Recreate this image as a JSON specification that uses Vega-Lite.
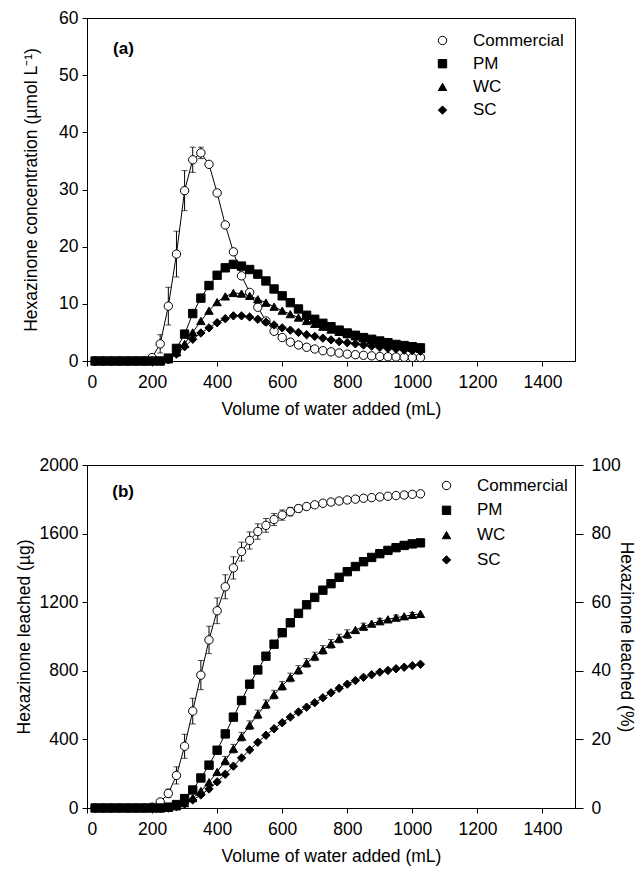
{
"$schema": "https://vega.github.io/schema/vega-lite/v6.json",
"padding": {"left": 14, "top": 8, "right": 2, "bottom": 4},
"config": {
  "font": "Liberation Sans",
  "view": {"stroke": "black", "strokeWidth": 1},
  "axis": {"grid": false, "domainColor": "black", "tickColor": "black", "labelColor": "black", "titleColor": "black", "labelFont": "Liberation Sans", "titleFont": "Liberation Sans", "labelFontSize": 17.5, "titleFontSize": 17.5, "titleFontWeight": "normal", "tickSize": 5, "labelPadding": 4, "format": "d"},
  "axisX": {"labelPadding": 7, "titlePadding": 10},
  "legend": {"labelFont": "Liberation Sans", "labelFontSize": 17, "labelColor": "black", "symbolStrokeColor": "black", "symbolStrokeWidth": 1, "symbolSize": 70, "padding": 0}
},
"spacing": 36,
"resolve": {"scale": {"shape": "independent", "fill": "independent", "stroke": "independent"}},
"datasets": {
"a": [
{"v":25,"s":"Commercial","c":0},{"v":50,"s":"Commercial","c":0},{"v":75,"s":"Commercial","c":0},{"v":100,"s":"Commercial","c":0},{"v":125,"s":"Commercial","c":0},{"v":150,"s":"Commercial","c":0},{"v":175,"s":"Commercial","c":0},{"v":200,"s":"Commercial","c":0.6},{"v":225,"s":"Commercial","c":3.0},{"v":250,"s":"Commercial","c":9.6},{"v":275,"s":"Commercial","c":18.7},{"v":300,"s":"Commercial","c":29.8},{"v":325,"s":"Commercial","c":35.2},{"v":350,"s":"Commercial","c":36.4},{"v":375,"s":"Commercial","c":34.4},{"v":400,"s":"Commercial","c":29.4},{"v":425,"s":"Commercial","c":23.8},{"v":450,"s":"Commercial","c":19.1},{"v":475,"s":"Commercial","c":14.9},{"v":500,"s":"Commercial","c":12.0},{"v":525,"s":"Commercial","c":9.4},{"v":550,"s":"Commercial","c":7.0},{"v":575,"s":"Commercial","c":5.2},{"v":600,"s":"Commercial","c":4.1},{"v":625,"s":"Commercial","c":3.3},{"v":650,"s":"Commercial","c":2.8},{"v":675,"s":"Commercial","c":2.4},{"v":700,"s":"Commercial","c":2.1},{"v":725,"s":"Commercial","c":1.8},{"v":750,"s":"Commercial","c":1.6},{"v":775,"s":"Commercial","c":1.4},{"v":800,"s":"Commercial","c":1.2},{"v":825,"s":"Commercial","c":1.1},{"v":850,"s":"Commercial","c":1.0},{"v":875,"s":"Commercial","c":0.9},{"v":900,"s":"Commercial","c":0.8},{"v":925,"s":"Commercial","c":0.75},{"v":950,"s":"Commercial","c":0.7},{"v":975,"s":"Commercial","c":0.65},{"v":1000,"s":"Commercial","c":0.6},{"v":1025,"s":"Commercial","c":0.6},
{"v":25,"s":"PM","c":0},{"v":50,"s":"PM","c":0},{"v":75,"s":"PM","c":0},{"v":100,"s":"PM","c":0},{"v":125,"s":"PM","c":0},{"v":150,"s":"PM","c":0},{"v":175,"s":"PM","c":0},{"v":200,"s":"PM","c":0},{"v":225,"s":"PM","c":0},{"v":250,"s":"PM","c":0.5},{"v":275,"s":"PM","c":2.2},{"v":300,"s":"PM","c":4.7},{"v":325,"s":"PM","c":8.3},{"v":350,"s":"PM","c":11.0},{"v":375,"s":"PM","c":13.2},{"v":400,"s":"PM","c":15.0},{"v":425,"s":"PM","c":16.3},{"v":450,"s":"PM","c":16.9},{"v":475,"s":"PM","c":16.6},{"v":500,"s":"PM","c":16.0},{"v":525,"s":"PM","c":15.2},{"v":550,"s":"PM","c":14.0},{"v":575,"s":"PM","c":12.6},{"v":600,"s":"PM","c":11.4},{"v":625,"s":"PM","c":10.2},{"v":650,"s":"PM","c":9.1},{"v":675,"s":"PM","c":8.0},{"v":700,"s":"PM","c":7.3},{"v":725,"s":"PM","c":6.6},{"v":750,"s":"PM","c":6.0},{"v":775,"s":"PM","c":5.4},{"v":800,"s":"PM","c":4.9},{"v":825,"s":"PM","c":4.5},{"v":850,"s":"PM","c":4.1},{"v":875,"s":"PM","c":3.8},{"v":900,"s":"PM","c":3.5},{"v":925,"s":"PM","c":3.2},{"v":950,"s":"PM","c":2.9},{"v":975,"s":"PM","c":2.7},{"v":1000,"s":"PM","c":2.5},{"v":1025,"s":"PM","c":2.3},
{"v":25,"s":"WC","c":0},{"v":50,"s":"WC","c":0},{"v":75,"s":"WC","c":0},{"v":100,"s":"WC","c":0},{"v":125,"s":"WC","c":0},{"v":150,"s":"WC","c":0},{"v":175,"s":"WC","c":0},{"v":200,"s":"WC","c":0},{"v":225,"s":"WC","c":0},{"v":250,"s":"WC","c":0.3},{"v":275,"s":"WC","c":1.5},{"v":300,"s":"WC","c":3.0},{"v":325,"s":"WC","c":5.0},{"v":350,"s":"WC","c":7.0},{"v":375,"s":"WC","c":8.8},{"v":400,"s":"WC","c":10.3},{"v":425,"s":"WC","c":11.3},{"v":450,"s":"WC","c":11.9},{"v":475,"s":"WC","c":11.8},{"v":500,"s":"WC","c":11.4},{"v":525,"s":"WC","c":10.8},{"v":550,"s":"WC","c":10.2},{"v":575,"s":"WC","c":9.5},{"v":600,"s":"WC","c":8.8},{"v":625,"s":"WC","c":8.2},{"v":650,"s":"WC","c":7.6},{"v":675,"s":"WC","c":7.0},{"v":700,"s":"WC","c":6.5},{"v":725,"s":"WC","c":6.0},{"v":750,"s":"WC","c":5.5},{"v":775,"s":"WC","c":5.1},{"v":800,"s":"WC","c":4.7},{"v":825,"s":"WC","c":4.3},{"v":850,"s":"WC","c":4.0},{"v":875,"s":"WC","c":3.6},{"v":900,"s":"WC","c":3.3},{"v":925,"s":"WC","c":3.0},{"v":950,"s":"WC","c":2.8},{"v":975,"s":"WC","c":2.5},{"v":1000,"s":"WC","c":2.3},{"v":1025,"s":"WC","c":2.1},
{"v":25,"s":"SC","c":0},{"v":50,"s":"SC","c":0},{"v":75,"s":"SC","c":0},{"v":100,"s":"SC","c":0},{"v":125,"s":"SC","c":0},{"v":150,"s":"SC","c":0},{"v":175,"s":"SC","c":0},{"v":200,"s":"SC","c":0},{"v":225,"s":"SC","c":0},{"v":250,"s":"SC","c":0.2},{"v":275,"s":"SC","c":1.2},{"v":300,"s":"SC","c":2.5},{"v":325,"s":"SC","c":3.8},{"v":350,"s":"SC","c":4.9},{"v":375,"s":"SC","c":5.8},{"v":400,"s":"SC","c":6.7},{"v":425,"s":"SC","c":7.4},{"v":450,"s":"SC","c":7.9},{"v":475,"s":"SC","c":7.9},{"v":500,"s":"SC","c":7.7},{"v":525,"s":"SC","c":7.3},{"v":550,"s":"SC","c":6.8},{"v":575,"s":"SC","c":6.3},{"v":600,"s":"SC","c":5.8},{"v":625,"s":"SC","c":5.4},{"v":650,"s":"SC","c":5.0},{"v":675,"s":"SC","c":4.6},{"v":700,"s":"SC","c":4.3},{"v":725,"s":"SC","c":4.0},{"v":750,"s":"SC","c":3.7},{"v":775,"s":"SC","c":3.4},{"v":800,"s":"SC","c":3.2},{"v":825,"s":"SC","c":3.0},{"v":850,"s":"SC","c":2.8},{"v":875,"s":"SC","c":2.6},{"v":900,"s":"SC","c":2.4},{"v":925,"s":"SC","c":2.2},{"v":950,"s":"SC","c":2.1},{"v":975,"s":"SC","c":1.9},{"v":1000,"s":"SC","c":1.8},{"v":1025,"s":"SC","c":1.7}
],
"b": [
{"v":25,"s":"Commercial","m":0},{"v":50,"s":"Commercial","m":0},{"v":75,"s":"Commercial","m":0},{"v":100,"s":"Commercial","m":0},{"v":125,"s":"Commercial","m":0},{"v":150,"s":"Commercial","m":0},{"v":175,"s":"Commercial","m":0},{"v":200,"s":"Commercial","m":5},{"v":225,"s":"Commercial","m":35},{"v":250,"s":"Commercial","m":85},{"v":275,"s":"Commercial","m":190},{"v":300,"s":"Commercial","m":360},{"v":325,"s":"Commercial","m":565},{"v":350,"s":"Commercial","m":775},{"v":375,"s":"Commercial","m":980},{"v":400,"s":"Commercial","m":1150},{"v":425,"s":"Commercial","m":1290},{"v":450,"s":"Commercial","m":1400},{"v":475,"s":"Commercial","m":1495},{"v":500,"s":"Commercial","m":1560},{"v":525,"s":"Commercial","m":1612},{"v":550,"s":"Commercial","m":1648},{"v":575,"s":"Commercial","m":1682},{"v":600,"s":"Commercial","m":1708},{"v":625,"s":"Commercial","m":1728},{"v":650,"s":"Commercial","m":1746},{"v":675,"s":"Commercial","m":1758},{"v":700,"s":"Commercial","m":1768},{"v":725,"s":"Commercial","m":1777},{"v":750,"s":"Commercial","m":1784},{"v":775,"s":"Commercial","m":1790},{"v":800,"s":"Commercial","m":1796},{"v":825,"s":"Commercial","m":1801},{"v":850,"s":"Commercial","m":1806},{"v":875,"s":"Commercial","m":1810},{"v":900,"s":"Commercial","m":1814},{"v":925,"s":"Commercial","m":1818},{"v":950,"s":"Commercial","m":1822},{"v":975,"s":"Commercial","m":1825},{"v":1000,"s":"Commercial","m":1829},{"v":1025,"s":"Commercial","m":1832},
{"v":25,"s":"PM","m":0},{"v":50,"s":"PM","m":0},{"v":75,"s":"PM","m":0},{"v":100,"s":"PM","m":0},{"v":125,"s":"PM","m":0},{"v":150,"s":"PM","m":0},{"v":175,"s":"PM","m":0},{"v":200,"s":"PM","m":0},{"v":225,"s":"PM","m":0},{"v":250,"s":"PM","m":5},{"v":275,"s":"PM","m":20},{"v":300,"s":"PM","m":55},{"v":325,"s":"PM","m":105},{"v":350,"s":"PM","m":175},{"v":375,"s":"PM","m":250},{"v":400,"s":"PM","m":337},{"v":425,"s":"PM","m":432},{"v":450,"s":"PM","m":530},{"v":475,"s":"PM","m":627},{"v":500,"s":"PM","m":722},{"v":525,"s":"PM","m":805},{"v":550,"s":"PM","m":885},{"v":575,"s":"PM","m":955},{"v":600,"s":"PM","m":1022},{"v":625,"s":"PM","m":1080},{"v":650,"s":"PM","m":1135},{"v":675,"s":"PM","m":1185},{"v":700,"s":"PM","m":1228},{"v":725,"s":"PM","m":1270},{"v":750,"s":"PM","m":1308},{"v":775,"s":"PM","m":1345},{"v":800,"s":"PM","m":1378},{"v":825,"s":"PM","m":1408},{"v":850,"s":"PM","m":1436},{"v":875,"s":"PM","m":1461},{"v":900,"s":"PM","m":1483},{"v":925,"s":"PM","m":1502},{"v":950,"s":"PM","m":1518},{"v":975,"s":"PM","m":1531},{"v":1000,"s":"PM","m":1540},{"v":1025,"s":"PM","m":1546},
{"v":25,"s":"WC","m":0},{"v":50,"s":"WC","m":0},{"v":75,"s":"WC","m":0},{"v":100,"s":"WC","m":0},{"v":125,"s":"WC","m":0},{"v":150,"s":"WC","m":0},{"v":175,"s":"WC","m":0},{"v":200,"s":"WC","m":0},{"v":225,"s":"WC","m":0},{"v":250,"s":"WC","m":2},{"v":275,"s":"WC","m":10},{"v":300,"s":"WC","m":28},{"v":325,"s":"WC","m":58},{"v":350,"s":"WC","m":99},{"v":375,"s":"WC","m":150},{"v":400,"s":"WC","m":210},{"v":425,"s":"WC","m":276},{"v":450,"s":"WC","m":346},{"v":475,"s":"WC","m":416},{"v":500,"s":"WC","m":483},{"v":525,"s":"WC","m":546},{"v":550,"s":"WC","m":605},{"v":575,"s":"WC","m":661},{"v":600,"s":"WC","m":712},{"v":625,"s":"WC","m":761},{"v":650,"s":"WC","m":805},{"v":675,"s":"WC","m":846},{"v":700,"s":"WC","m":884},{"v":725,"s":"WC","m":922},{"v":750,"s":"WC","m":957},{"v":775,"s":"WC","m":988},{"v":800,"s":"WC","m":1014},{"v":825,"s":"WC","m":1038},{"v":850,"s":"WC","m":1058},{"v":875,"s":"WC","m":1075},{"v":900,"s":"WC","m":1089},{"v":925,"s":"WC","m":1100},{"v":950,"s":"WC","m":1110},{"v":975,"s":"WC","m":1118},{"v":1000,"s":"WC","m":1126},{"v":1025,"s":"WC","m":1132},
{"v":25,"s":"SC","m":0},{"v":50,"s":"SC","m":0},{"v":75,"s":"SC","m":0},{"v":100,"s":"SC","m":0},{"v":125,"s":"SC","m":0},{"v":150,"s":"SC","m":0},{"v":175,"s":"SC","m":0},{"v":200,"s":"SC","m":0},{"v":225,"s":"SC","m":0},{"v":250,"s":"SC","m":1},{"v":275,"s":"SC","m":8},{"v":300,"s":"SC","m":24},{"v":325,"s":"SC","m":47},{"v":350,"s":"SC","m":76},{"v":375,"s":"SC","m":111},{"v":400,"s":"SC","m":152},{"v":425,"s":"SC","m":197},{"v":450,"s":"SC","m":244},{"v":475,"s":"SC","m":292},{"v":500,"s":"SC","m":339},{"v":525,"s":"SC","m":383},{"v":550,"s":"SC","m":424},{"v":575,"s":"SC","m":462},{"v":600,"s":"SC","m":497},{"v":625,"s":"SC","m":530},{"v":650,"s":"SC","m":560},{"v":675,"s":"SC","m":588},{"v":700,"s":"SC","m":614},{"v":725,"s":"SC","m":643},{"v":750,"s":"SC","m":672},{"v":775,"s":"SC","m":698},{"v":800,"s":"SC","m":722},{"v":825,"s":"SC","m":743},{"v":850,"s":"SC","m":762},{"v":875,"s":"SC","m":777},{"v":900,"s":"SC","m":792},{"v":925,"s":"SC","m":802},{"v":950,"s":"SC","m":812},{"v":975,"s":"SC","m":821},{"v":1000,"s":"SC","m":830},{"v":1025,"s":"SC","m":838}
],
"ea": [
{"v":225,"lo":1.4,"hi":4.6},{"v":250,"lo":6.3,"hi":12.9},{"v":275,"lo":14.7,"hi":22.7},{"v":300,"lo":26.3,"hi":33.3},{"v":325,"lo":33.0,"hi":37.4},{"v":350,"lo":35.4,"hi":37.4}
],
"eb": [
{"v":250,"lo":60,"hi":110},{"v":275,"lo":140,"hi":240},{"v":300,"lo":290,"hi":430},{"v":325,"lo":490,"hi":640},{"v":350,"lo":690,"hi":860},{"v":375,"lo":900,"hi":1060},{"v":400,"lo":1075,"hi":1225},{"v":425,"lo":1220,"hi":1360},{"v":450,"lo":1335,"hi":1465},{"v":475,"lo":1440,"hi":1550},{"v":500,"lo":1510,"hi":1610},{"v":525,"lo":1567,"hi":1657},{"v":550,"lo":1608,"hi":1688},{"v":575,"lo":1647,"hi":1717},{"v":600,"lo":1678,"hi":1738},{"v":625,"lo":1703,"hi":1753},{"v":650,"lo":1726,"hi":1766},
{"v":425,"lo":251,"hi":301},{"v":450,"lo":321,"hi":371},{"v":475,"lo":391,"hi":441},{"v":500,"lo":458,"hi":508},{"v":525,"lo":521,"hi":571},{"v":550,"lo":580,"hi":630},{"v":575,"lo":636,"hi":686},{"v":600,"lo":687,"hi":737},{"v":625,"lo":736,"hi":786},{"v":650,"lo":780,"hi":830},{"v":675,"lo":821,"hi":871},{"v":700,"lo":859,"hi":909},{"v":725,"lo":897,"hi":947},{"v":750,"lo":932,"hi":982},{"v":775,"lo":963,"hi":1013},{"v":800,"lo":989,"hi":1039},{"v":850,"lo":1038,"hi":1078},{"v":900,"lo":1072,"hi":1106},{"v":950,"lo":1095,"hi":1125},{"v":1000,"lo":1112,"hi":1140}
]
},
"vconcat": [
{
  "width": 488, "height": 343,
  "layer": [
    {"data": {"name": "a"}, "mark": {"type": "line", "color": "black", "strokeWidth": 1},
     "encoding": {
       "x": {"field": "v", "type": "quantitative", "scale": {"domain": [0, 1500], "nice": false}, "axis": {"values": [0,200,400,600,800,1000,1200,1400]}, "title": "Volume of water added (mL)"},
       "y": {"field": "c", "type": "quantitative", "scale": {"domain": [0, 60], "nice": false}, "axis": {"values": [0,10,20,30,40,50,60], "titlePadding": 18}, "title": "Hexazinone concentration (µmol L⁻¹)"},
       "detail": {"field": "s"}}},
    {"data": {"name": "ea"}, "mark": {"type": "errorbar", "ticks": true, "size": 6, "color": "black", "thickness": 1},
     "encoding": {
       "x": {"field": "v", "type": "quantitative", "title": "Volume of water added (mL)"},
       "y": {"field": "lo", "type": "quantitative", "title": "Hexazinone concentration (µmol L⁻¹)"},
       "y2": {"field": "hi"}}},
    {"data": {"name": "a"}, "mark": {"type": "point", "filled": true, "strokeWidth": 1, "size": 70, "opacity": 1},
     "encoding": {
       "x": {"field": "v", "type": "quantitative", "title": "Volume of water added (mL)"},
       "y": {"field": "c", "type": "quantitative", "title": "Hexazinone concentration (µmol L⁻¹)"},
       "shape": {"field": "s", "type": "nominal", "title": null, "scale": {"domain": ["Commercial","PM","WC","SC"], "range": ["circle","square","triangle-up","diamond"]}, "legend": {"orient": "none", "legendX": 347, "legendY": 14, "rowPadding": 5.2, "labelOffset": 22}},
       "fill": {"field": "s", "type": "nominal", "title": null, "scale": {"domain": ["Commercial","PM","WC","SC"], "range": ["white","black","black","black"]}, "legend": {"orient": "none", "legendX": 347, "legendY": 14, "rowPadding": 5.2, "labelOffset": 22}},
       "stroke": {"field": "s", "type": "nominal", "title": null, "scale": {"domain": ["Commercial","PM","WC","SC"], "range": ["black","black","black","black"]}, "legend": {"orient": "none", "legendX": 347, "legendY": 14, "rowPadding": 5.2, "labelOffset": 22}}}},
    {"data": {"values": [{}]}, "mark": {"type": "text", "fontWeight": "bold", "fontSize": 17, "font": "Liberation Sans", "color": "black"},
     "encoding": {"x": {"datum": 112, "type": "quantitative"}, "y": {"datum": 54.6, "type": "quantitative"}, "text": {"value": "(a)"}}}
  ]
},
{
  "width": 488, "height": 343,
  "resolve": {"scale": {"y": "independent"}},
  "layer": [
    {"layer": [
      {"data": {"name": "b"}, "mark": {"type": "line", "color": "black", "strokeWidth": 1},
       "encoding": {
         "x": {"field": "v", "type": "quantitative", "scale": {"domain": [0, 1500], "nice": false}, "axis": {"values": [0,200,400,600,800,1000,1200,1400]}, "title": "Volume of water added (mL)"},
         "y": {"field": "m", "type": "quantitative", "scale": {"domain": [0, 2000], "nice": false}, "axis": {"values": [0,400,800,1200,1600,2000], "titlePadding": 6}, "title": "Hexazinone leached (µg)"},
         "detail": {"field": "s"}}},
      {"data": {"name": "eb"}, "mark": {"type": "errorbar", "ticks": true, "size": 6, "color": "black", "thickness": 1},
       "encoding": {
         "x": {"field": "v", "type": "quantitative", "title": "Volume of water added (mL)"},
         "y": {"field": "lo", "type": "quantitative", "title": "Hexazinone leached (µg)"},
         "y2": {"field": "hi"}}},
      {"data": {"name": "b"}, "mark": {"type": "point", "filled": true, "strokeWidth": 1, "size": 70, "opacity": 1},
       "encoding": {
         "x": {"field": "v", "type": "quantitative", "title": "Volume of water added (mL)"},
         "y": {"field": "m", "type": "quantitative", "title": "Hexazinone leached (µg)"},
         "shape": {"field": "s", "type": "nominal", "title": null, "scale": {"domain": ["Commercial","PM","WC","SC"], "range": ["circle","square","triangle-up","diamond"]}, "legend": {"orient": "none", "legendX": 351, "legendY": 12, "rowPadding": 6.8, "labelOffset": 22}},
         "fill": {"field": "s", "type": "nominal", "title": null, "scale": {"domain": ["Commercial","PM","WC","SC"], "range": ["white","black","black","black"]}, "legend": {"orient": "none", "legendX": 351, "legendY": 12, "rowPadding": 6.8, "labelOffset": 22}},
         "stroke": {"field": "s", "type": "nominal", "title": null, "scale": {"domain": ["Commercial","PM","WC","SC"], "range": ["black","black","black","black"]}, "legend": {"orient": "none", "legendX": 351, "legendY": 12, "rowPadding": 6.8, "labelOffset": 22}}}},
      {"data": {"values": [{}]}, "mark": {"type": "text", "fontWeight": "bold", "fontSize": 17, "font": "Liberation Sans", "color": "black"},
       "encoding": {"x": {"datum": 111, "type": "quantitative"}, "y": {"datum": 1842, "type": "quantitative"}, "text": {"value": "(b)"}}}
    ]},
    {"data": {"values": [{"p": 0}, {"p": 100}]}, "mark": {"type": "point", "opacity": 0},
     "encoding": {"y": {"field": "p", "type": "quantitative", "scale": {"domain": [0, 100], "nice": false}, "axis": {"orient": "right", "values": [0,20,40,60,80,100], "tickSize": 8, "labelPadding": 8, "titlePadding": -4}, "title": "Hexazinone leached (%)"}}}
  ]
}
]
}
